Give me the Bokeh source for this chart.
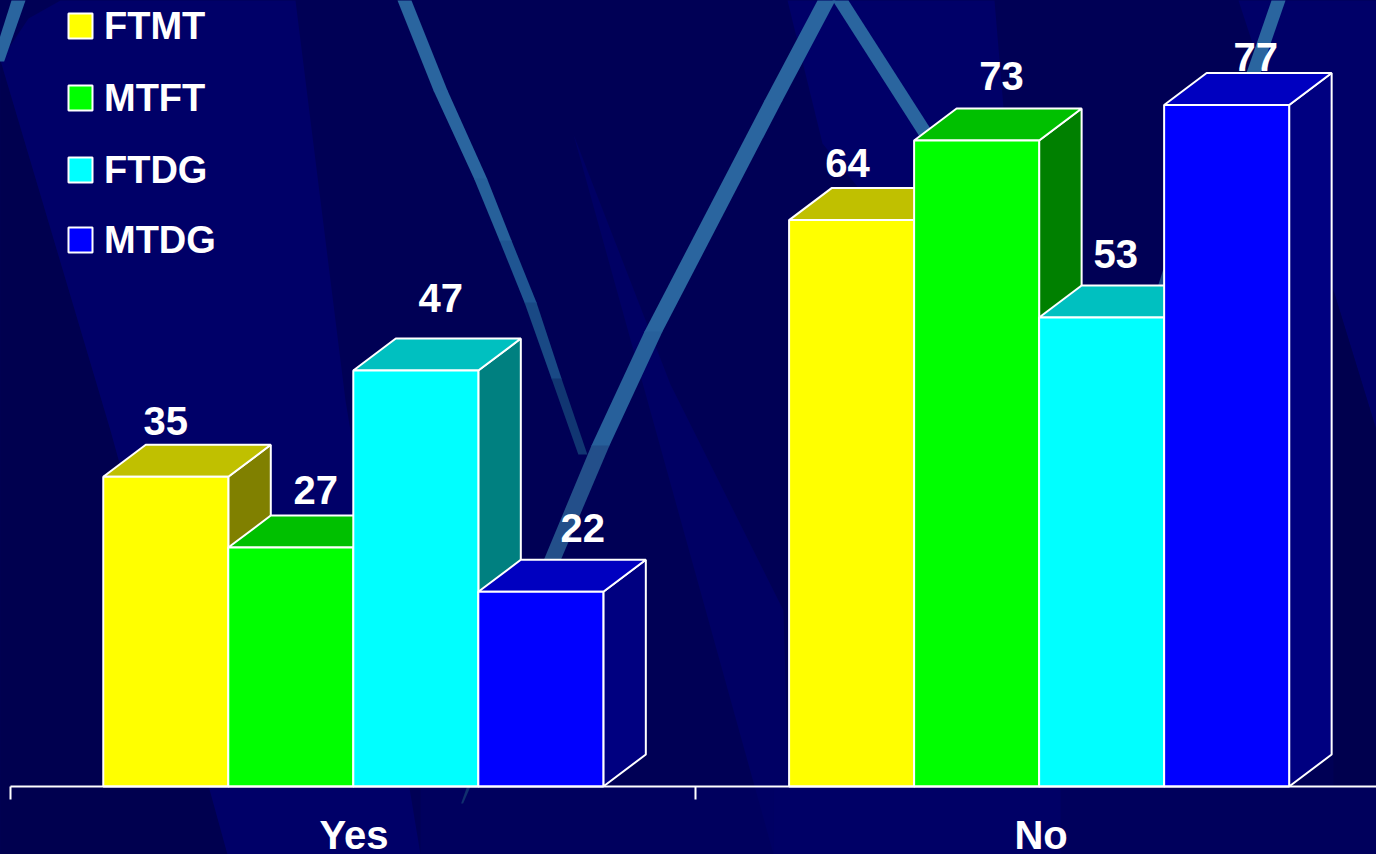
from bokeh.plotting import figure
from bokeh.models import ColumnDataSource, FixedTicker
from bokeh.core.properties import value
from bokeh.embed import file_html
from bokeh.resources import INLINE

# Chart values
groups = ["Yes", "No"]
series = ["FTMT", "MTFT", "FTDG", "MTDG"]
yes_values = [35, 27, 47, 22]
no_values = [64, 73, 53, 77]
front_colors = ["#ffff00", "#00ff00", "#00ffff", "#0000ff"]
top_colors = ["#c0c000", "#00c000", "#00c0c0", "#0000c0"]
side_colors = ["#808000", "#008000", "#008080", "#000080"]

# Hand-placed value labels: pixel shift from the front top centre of each bar
yes_label_dx = [0, 25, 25, 42]
yes_label_dy = [56, 58, 73, 64]
no_label_dx = [-4, 25, 14, 29]
no_label_dy = [57, 64, 63, 48]

WIDTH, HEIGHT = 1376, 854
PX_PER_GROUP = 685.0
PX_PER_UNIT = 8.85
X0_PX, Y0_PX = 10.3, 786.0
BAR_W = 0.1825
YES_CENTRE, NO_CENTRE = 0.5, 1.5012
DEPTH_X = 42.5 / PX_PER_GROUP
DEPTH_Y = 32 / PX_PER_UNIT


def sx(px):
    return (px - X0_PX) / PX_PER_GROUP


def sy(py):
    return (Y0_PX - py) / PX_PER_UNIT


# The canvas starts one pixel outside the page corner so the ground bleeds off it
p = figure(width=WIDTH + 1, height=HEIGHT + 1, output_backend="svg", toolbar_location=None,
           x_range=(sx(-1), sx(WIDTH)), y_range=(sy(HEIGHT), sy(-1)),
           min_border=0, outline_line_color=None,
           background_fill_color="#000055", border_fill_color="#000055",
           styles={"position": "absolute", "left": "-1px", "top": "-1px"})
p.grid.visible = False
p.yaxis.visible = False


def backdrop(points, color):
    p.patch([sx(a) for a, _ in points], [sy(b) for _, b in points],
            fill_color=color, line_color=None)


# Full-bleed ground, then the diagonal panels of the slide backdrop
backdrop([(-5, -5), (WIDTH + 5, -5), (WIDTH + 5, HEIGHT + 5), (-5, HEIGHT + 5)], "#000055")
backdrop([(0, 60), (0, 854), (227, 854), (110, 430)], "#00004f")
backdrop([(420, 786), (773, 786), (773, 854), (420, 854)], "#00005e")
backdrop([(0, 60), (28, 18), (60, 0), (295, 0), (345, 400), (420, 854), (227, 854), (110, 430)], "#000068")
backdrop([(573, 134), (670, 384), (783, 610), (790, 854), (773, 854)], "#000064")
backdrop([(787, 0), (994, 0), (1010, 190), (860, 190), (822, 143)], "#000068")
backdrop([(1238, 0), (1376, 0), (1376, 430), (1333, 290)], "#000068")
backdrop([(773, 786), (1376, 786), (1376, 854), (773, 854)], "#00005c")
backdrop([(773, 786), (1060, 786), (1060, 854), (773, 854)], "#000066")
backdrop([(1333, 290), (1376, 430), (1376, 786), (1333, 786)], "#00004e")


def ribbon(stops):
    # Tapered band; each stop is (x centre, y, half width, colour).
    # Segments overlap slightly so no seam shows between colours.
    for (x1, y1, w1, c1), (x2, y2, w2, _) in zip(stops, stops[1:]):
        ex = (x2 - x1) / max(abs(y2 - y1), 1)
        backdrop([(x1 - w1, y1), (x1 + w1, y1), (x2 + w2 + ex, y2 + 1), (x2 - w2 + ex, y2 + 1)], c1)


STEEL = "#2a659f"
ribbon([(18, 0, 7, STEEL), (-2, 60, 6, STEEL)])
ribbon([(404, 0, 7, STEEL), (440, 90, 7, STEEL), (480, 178, 6.5, "#26609a"),
        (505, 240, 6, "#1f5592"), (530, 302, 6, "#194985"), (556, 378, 5, "#113672"),
        (582, 453, 4.5, "#0a2568")])
ribbon([(826, 0, 9, STEEL), (773, 100, 9, STEEL), (653, 331, 9, "#27609b"),
        (600, 445, 9, "#234f8a"), (552, 559, 8.5, "#1e467f"), (510, 680, 6, "#102f6e"),
        (462, 802, 1, "#0a2568")])
ribbon([(840, 0, 8, STEEL), (936, 150, 8, STEEL)])
ribbon([(1278, 0, 7, STEEL), (1240, 110, 7, STEEL), (1180, 230, 5, "#1c4a85"),
        (1155, 300, 2, "#0d3072")])

# Value labels sit behind the bars
for base, vals, dxs, dys in [(YES_CENTRE, yes_values, yes_label_dx, yes_label_dy),
                             (NO_CENTRE, no_values, no_label_dx, no_label_dy)]:
    left = [base + (i - 2) * BAR_W for i in range(4)]
    src = ColumnDataSource(dict(
        x=[l + BAR_W / 2 for l in left], y=vals, t=[str(v) for v in vals],
        xo=dxs, yo=[-d for d in dys]))
    p.text("x", "y", text="t", source=src, x_offset="xo", y_offset="yo",
           text_font=value("Liberation Sans"), text_font_style="bold",
           text_font_size="40px", text_color="#ffffff",
           text_align="center", text_baseline="alphabetic")

# Each bar is a side wall, a lid and a front face, painted left to right
for base, vals in [(YES_CENTRE, yes_values), (NO_CENTRE, no_values)]:
    for i, v in enumerate(vals):
        x0 = base + (i - 2) * BAR_W
        x1 = x0 + BAR_W
        p.patch([x1, x1 + DEPTH_X, x1 + DEPTH_X, x1], [0, DEPTH_Y, v + DEPTH_Y, v],
                fill_color=side_colors[i], line_color="#ffffff", line_width=2)
        p.patch([x0, x0 + DEPTH_X, x1 + DEPTH_X, x1], [v, v + DEPTH_Y, v + DEPTH_Y, v],
                fill_color=top_colors[i], line_color="#ffffff", line_width=2)
        p.quad(left=x0, right=x1, bottom=0, top=v,
               fill_color=front_colors[i], line_color="#ffffff", line_width=2)

# Category axis along the floor, ticks on the group boundaries
label_ticks = [0.501, 1.504]
axis = p.xaxis[0]
axis.fixed_location = 0
axis.bounds = (0, 2)
axis.ticker = FixedTicker(ticks=label_ticks, minor_ticks=[0, 1, 2])
axis.major_label_overrides = dict(zip(label_ticks, groups))
axis.major_tick_line_color = None
axis.major_tick_in = 0
axis.major_tick_out = 0
axis.minor_tick_line_color = "#ffffff"
axis.minor_tick_line_width = 2
axis.minor_tick_in = 0
axis.minor_tick_out = 13
axis.axis_line_color = "#ffffff"
axis.axis_line_width = 2
axis.major_label_standoff = 13
axis.major_label_text_font = "Liberation Sans"
axis.major_label_text_font_style = "bold"
axis.major_label_text_font_size = "40px"
axis.major_label_text_color = "#ffffff"

# Legend: swatches and names stacked in the upper left corner
swatch_top = [13, 85, 157, 227]
for name, color, top in zip(series, front_colors, swatch_top):
    p.quad(left=sx(68), right=sx(92), top=sy(top), bottom=sy(top + 25),
           fill_color=color, line_color="#ffffff", line_width=2)
    p.text([sx(103.5)], [sy(top + 12)], text=[name],
           text_font=value("Liberation Sans"), text_font_style="bold",
           text_font_size="38px", text_color="#ffffff",
           text_align="left", text_baseline="alphabetic")

open("out.html", "w").write(file_html(p, INLINE))
